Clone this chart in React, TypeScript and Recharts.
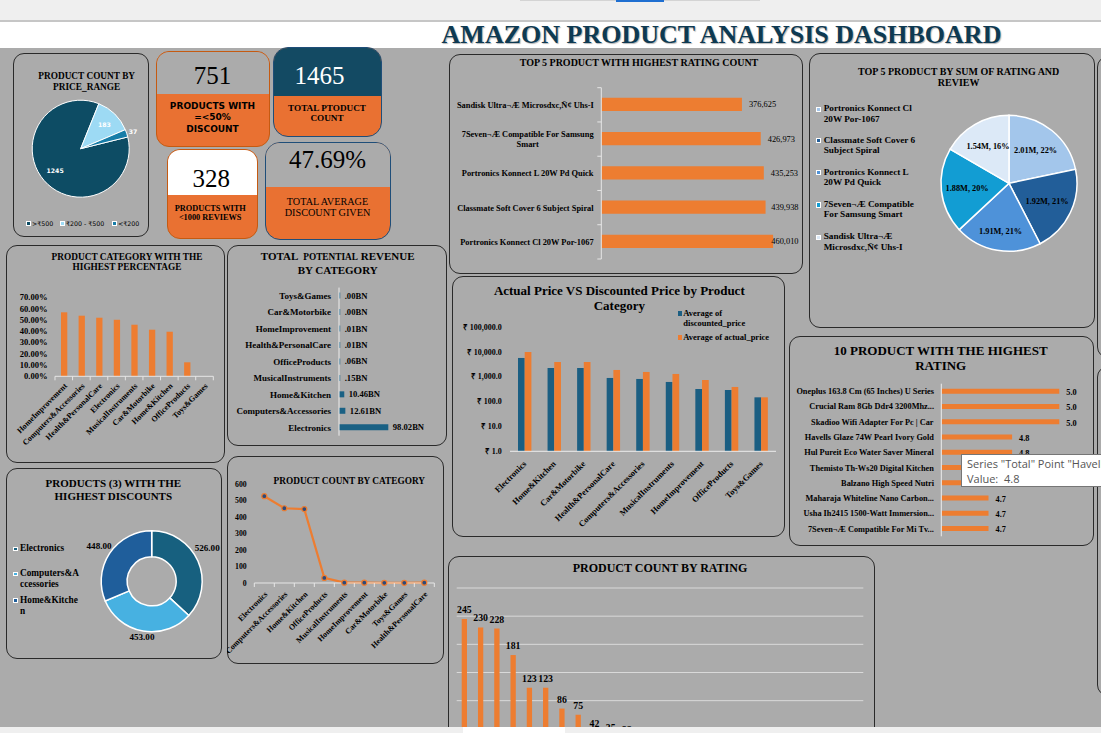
import React from 'react';
import { PieChart, Pie, Cell, BarChart, Bar, XAxis, YAxis, LabelList, LineChart, Line, CartesianGrid } from 'recharts';

const SERIF = "'Liberation Serif', 'Times New Roman', Times, serif";
const SANS = "'DejaVu Sans', Verdana, sans-serif";
const UI = "'Open Sans', 'Noto Sans', sans-serif";
const ORANGE = '#ED7D31';
const CARD_ORANGE = '#E97132';
const TEAL = '#134A63';
const BG = '#ABABAB';
const AXIS = '#E6E6E6';
const RAD = Math.PI / 180;

// ---------------- data ----------------
const priceRanges = ['>₹500', '₹200 - ₹500', '<₹200'];
const priceRangeCounts = [1245, 183, 37];
const priceRangeColors = ['#0D4C64', '#9DDAF4', '#177DA8'];

const productsUpTo50Discount = 751;
const totalProductCount = 1465;
const productsUnder1000Reviews = 328;
const totalAverageDiscount = 47.69;

const ratingCountProducts = [
  'Sandisk Ultra¬Æ Microsdxc,Ñ¢ Uhs-I',
  '7Seven¬Æ Compatible For Samsung Smart',
  'Portronics Konnect L 20W Pd Quick',
  'Classmate Soft Cover 6 Subject Spiral',
  'Portronics Konnect Cl 20W Por-1067',
];
const ratingCounts = [376625, 426973, 435253, 439938, 460010];

const sumProducts = [
  'Portronics Konnect Cl 20W Por-1067',
  'Classmate Soft Cover 6 Subject Spiral',
  'Portronics Konnect L 20W Pd Quick',
  '7Seven¬Æ Compatible For Samsung Smart',
  'Sandisk Ultra¬Æ Microsdxc,Ñ¢ Uhs-I',
];
const sumValuesM = [2.01, 1.92, 1.91, 1.88, 1.54];
const sumShareLabels = ['22%', '21%', '21%', '20%', '16%'];
const sumColors = ['#A3C6EB', '#225E99', '#4E92D9', '#129DD3', '#DCE9F7'];

const pctCategories = ['HomeImprovement', 'Computers&Accessories', 'Health&PersonalCare', 'Electronics', 'MusicalInstruments', 'Car&Motorbike', 'Home&Kitchen', 'OfficeProducts', 'Toys&Games'];
const pctValues = [0.567, 0.537, 0.519, 0.501, 0.457, 0.413, 0.395, 0.124, 0];

const revCategories = ['Toys&Games', 'Car&Motorbike', 'HomeImprovement', 'Health&PersonalCare', 'OfficeProducts', 'MusicalInstruments', 'Home&Kitchen', 'Computers&Accessories', 'Electronics'];
const revValuesBN = [0.0002, 0.0021, 0.0136, 0.0128, 0.0587, 0.1531, 10.46, 12.61, 98.02];

const priceCategories = ['Electronics', 'Home&Kitchen', 'Car&Motorbike', 'Health&PersonalCare', 'Computers&Accessories', 'MusicalInstruments', 'HomeImprovement', 'OfficeProducts', 'Toys&Games'];
const avgDiscountedPrice = [5800, 2290, 2290, 906, 826, 625, 326, 297, 150];
const avgActualPrice = [10120, 4000, 4000, 1905, 1581, 1313, 752, 393, 150];

const topRatedProducts = [
  'Oneplus 163.8 Cm (65 Inches) U Series',
  'Crucial Ram 8Gb Ddr4 3200Mhz...',
  'Skadioo Wifi Adapter For Pc | Car',
  'Havells Glaze 74W Pearl Ivory Gold',
  'Hul Pureit Eco Water Saver Mineral',
  'Themisto Th-Ws20 Digital Kitchen',
  'Balzano High Speed Nutri',
  'Maharaja Whiteline Nano Carbon...',
  'Usha Ih2415 1500-Watt Immersion...',
  '7Seven¬Æ Compatible For Mi Tv...',
];
const topRatings = [5.0, 5.0, 5.0, 4.8, 4.8, 4.8, 4.8, 4.7, 4.7, 4.7];

const discountCategories = ['Electronics', 'Computers&Accessories', 'Home&Kitchen'];
const discountValues = [526, 453, 448];
const discountColors = ['#17607F', '#47B1E1', '#1F5E9B'];

const countCategories = ['Electronics', 'Computers&Accessories', 'Home&Kitchen', 'OfficeProducts', 'MusicalInstruments', 'HomeImprovement', 'Car&Motorbike', 'Toys&Games', 'Health&PersonalCare'];
const countValues = [526, 453, 448, 31, 2, 2, 1, 1, 2];

const ratingLevels = ['4.1', '4.3', '4.2', '4.0', '3.9', '4.4', '3.8', '4.5', '4.6', '3.7', '3.6', '4.7', '3.5', '3.3', '3.4', '3.1', '5.0', '3.0', '3.2', '2.8', '2.3', '2.9', '2.6', '2.0', '4.8'];
const ratingLevelCounts = [245, 230, 228, 181, 123, 123, 86, 75, 42, 35, 32, 27, 26, 16, 10, 4, 4, 3, 3, 2, 2, 1, 1, 1, 1];

// ---------------- table builders ----------------
const priceRangeData = priceRanges.map((range, i) => ({ range, count: priceRangeCounts[i] }));
const ratingCountData = ratingCountProducts.map((name, i) => ({ name, value: ratingCounts[i] }));
const sumData = sumProducts.map((name, i) => ({ name, value: sumValuesM[i] }));
const pctData = pctCategories.map((name, i) => ({ name, value: pctValues[i] }));
const revData = revCategories.map((name, i) => ({ name, value: revValuesBN[i] }));
const priceData = priceCategories.map((name, i) => ({ name, disc: Math.log10(avgDiscountedPrice[i]), act: Math.log10(avgActualPrice[i]) }));
const topRatedData = topRatedProducts.map((name, i) => ({ name, value: topRatings[i] }));
const discountData = discountCategories.map((name, i) => ({ name, value: discountValues[i] }));
const countData = countCategories.map((name, i) => ({ name, value: countValues[i] }));
const ratingData = ratingLevels.map((name, i) => ({ name, count: ratingLevelCounts[i] }));

// ---------------- helpers ----------------
let _ctx: CanvasRenderingContext2D | null = null;
function measure(t: string, font: string) {
  if (!_ctx) _ctx = document.createElement('canvas').getContext('2d');
  if (!_ctx) return t.length * 5;
  _ctx.font = font;
  return _ctx.measureText(t).width;
}
function wrapText(text: string, font: string, maxW: number): string[] {
  const words = text.split(' ');
  const lines: string[] = [];
  let cur = '';
  for (const w of words) {
    const trial = cur ? cur + ' ' + w : w;
    if (measure(trial, font) <= maxW) { cur = trial; continue; }
    if (cur) { lines.push(cur); cur = ''; }
    if (measure(w, font) <= maxW) { cur = w; continue; }
    let piece = '';
    for (const ch of w) {
      if (piece && measure(piece + ch, font) > maxW) { lines.push(piece); piece = ch; } else piece += ch;
    }
    cur = piece;
  }
  if (cur) lines.push(cur);
  return lines;
}

function T({ x, y, children, size, bold = true, font = SERIF, color = '#000', anchor = 'middle', style = {} }: any) {
  const tx = anchor === 'middle' ? '-50%' : anchor === 'end' ? '-100%' : '0';
  return (
    <div style={{ position: 'absolute', left: x, top: y, transform: `translate(${tx}, -50%)`, fontFamily: font, fontSize: size, fontWeight: bold ? 700 : 400, color, whiteSpace: 'nowrap', lineHeight: 1, ...style }}>
      {children}
    </div>
  );
}
function Panel({ x, y, w, h, r = 11 }: any) {
  return <div style={{ position: 'absolute', left: x, top: y, width: w, height: h, border: '1.4px solid #2A2A2A', borderRadius: r, boxSizing: 'border-box' }} />;
}
function At({ x, y, children }: any) {
  return <div style={{ position: 'absolute', left: x, top: y }}>{children}</div>;
}
function Card({ x, y, w, h, split, top, border, r, value, valueColor = '#000', vx, vy, lines, lx, ly, font = SERIF, size, bold = true }: any) {
  const b = 1.5;
  return (
    <div style={{ position: 'absolute', left: x, top: y, width: w, height: h, borderRadius: r, border: `${b}px solid ${border}`, overflow: 'hidden', boxSizing: 'border-box', background: CARD_ORANGE }}>
      <div style={{ position: 'absolute', left: 0, top: 0, right: 0, height: split - b, background: top }} />
      <T x={(vx ?? w / 2) - b} y={vy - b} size={25} bold={false} color={valueColor}>{value}</T>
      {lines.map((l: string, i: number) => (
        <T key={i} x={(lx ?? w / 2) - b} y={ly[i] - b} size={size} bold={bold} font={font}>{l}</T>
      ))}
    </div>
  );
}

function catTick(right: number, size: number, maxW: number, band?: number, axisX?: number, count?: number) {
  const font = `bold ${size}px 'Liberation Serif'`;
  return (p: any) => {
    const lines = wrapText(String(p.payload.value), font, maxW);
    const bw = Math.max(...lines.map((l) => measure(l, font)));
    const cx = right - bw / 2;
    const lh = size * 1.2;
    const y0 = p.y - ((lines.length - 1) * lh) / 2;
    return (
      <g>
        <text fontFamily={SERIF} fontWeight="bold" fontSize={size} fill="#000" textAnchor="middle">
          {lines.map((l, i) => (
            <tspan key={i} x={cx} y={y0 + i * lh} dy="0.35em">{l}</tspan>
          ))}
        </text>
        {band && axisX !== undefined ? (
          <g>
            <line x1={axisX - 4} x2={axisX} y1={p.y - band / 2} y2={p.y - band / 2} stroke={AXIS} />
            {p.index === (count ?? 0) - 1 ? <line x1={axisX - 4} x2={axisX} y1={p.y + band / 2} y2={p.y + band / 2} stroke={AXIS} /> : null}
          </g>
        ) : null}
      </g>
    );
  };
}

function rotTick(axisY: number, dx: number, dy: number, size: number, band?: number, count?: number) {
  return (p: any) => {
    const tx = p.x + dx;
    const ty = axisY + dy;
    return (
      <g>
        <text x={tx} y={ty} transform={`rotate(-45 ${tx} ${ty})`} textAnchor="end" dominantBaseline="central" fontFamily={SERIF} fontWeight="bold" fontSize={size} fill="#000">
          {p.payload.value}
        </text>
        {band ? <line x1={p.x - band / 2} x2={p.x - band / 2} y1={axisY} y2={axisY + 4} stroke={AXIS} /> : null}
        {band && p.index === (count ?? 0) - 1 ? <line x1={p.x + band / 2} x2={p.x + band / 2} y1={axisY} y2={axisY + 4} stroke={AXIS} /> : null}
      </g>
    );
  };
}

function yTick(right: number, size: number, fmt: (v: number) => string) {
  return (p: any) => (
    <text x={right} y={p.y} textAnchor="end" dominantBaseline="central" fontFamily={SERIF} fontWeight="bold" fontSize={size} fill="#000">
      {fmt(p.payload.value)}
    </text>
  );
}

const pieLabel = (factors: number[], render: (i: number) => string, opts: any, nudgeY: number[] = []) => (p: any) => {
  const r = p.outerRadius * factors[p.index];
  const x = p.cx + r * Math.cos(-p.midAngle * RAD);
  const y = p.cy + r * Math.sin(-p.midAngle * RAD) + (nudgeY[p.index] || 0);
  return (
    <text x={x} y={y} textAnchor="middle" dominantBaseline="central" {...opts}>
      {render(p.index)}
    </text>
  );
};

const M0 = { top: 0, right: 0, bottom: 0, left: 0 };

export default function App() {
  const sumLegendFont = `bold 9.2px 'Liberation Serif'`;
  const discLegendFont = `bold 9.3px 'Liberation Serif'`;
  const sumLegendY = [109.3, 140.7, 172.7, 205, 237.3];
  const discLegendY = [549, 574, 600.7];
  const priceLegendY = [313.3, 337.3];
  const priceLegendItems = ['Average of discounted_price', 'Average of actual_price'];
  const priceLegendColors = ['#1B5E82', ORANGE];

  return (
    <div style={{ position: 'absolute', left: 0, top: 0, width: 1101, height: 733, overflow: 'hidden', background: BG, fontFamily: SERIF }}>
      {/* top bands */}
      <div style={{ position: 'absolute', left: 0, top: 0, width: 1101, height: 20, background: '#EFEFEF' }} />
      <div style={{ position: 'absolute', left: 520, top: 0, width: 240, height: 1, background: '#D4D4D4' }} />
      <div style={{ position: 'absolute', left: 616, top: 0, width: 48, height: 1.5, background: '#1F6FD1' }} />
      <div style={{ position: 'absolute', left: 0, top: 20, width: 1101, height: 2, background: '#C6C6C6' }} />
      <div style={{ position: 'absolute', left: 0, top: 22, width: 1101, height: 26, background: '#FFFFFF' }} />
      <T x={721.5} y={34.5} size={26} color="#0E3A52" style={{ textShadow: '1px 1px 1px rgba(0,0,0,0.3)' }}>AMAZON PRODUCT ANALYSIS DASHBOARD</T>

      {/* panels */}
      <Panel x={13} y={53} w={136} h={184} />
      <Panel x={449} y={54} w={354} h={220} />
      <Panel x={809} y={53} w={286} h={275} />
      <Panel x={6} y={245} w={219} h={218} />
      <Panel x={227} y={245} w={220} h={201} />
      <Panel x={452} y={276} w={333} h={261} />
      <Panel x={789} y={336} w={305} h={210} />
      <Panel x={6} y={468} w={216} h={191} />
      <Panel x={227} y={456} w={217} h={208} />
      <Panel x={448} y={556} w={427} h={220} />
      <Panel x={1097} y={56} w={30} h={302} />
      <Panel x={1097} y={366} w={30} h={330} />

      {/* ---- price range pie ---- */}
      <T x={86.7} y={77.3} size={9.3}>PRODUCT COUNT BY</T>
      <T x={86.7} y={87.5} size={9.3}>PRICE_RANGE</T>
      <At x={13} y={53}>
        <PieChart width={136} height={184} margin={M0}>
          <Pie data={priceRangeData} dataKey="count" nameKey="range" cx={67.7} cy={95.7} outerRadius={48.5} startAngle={14} endAngle={-346} stroke="#fff" strokeWidth={1} isAnimationActive={false} labelLine={false}
            label={pieLabel([0.7, 0.7, 1.14], (i) => String(priceRangeCounts[i]), { fill: '#fff', fontFamily: SANS, fontWeight: 'bold', fontSize: 6.2 })}>
            {priceRangeData.map((d, i) => <Cell key={i} fill={priceRangeColors[i]} />)}
          </Pie>
        </PieChart>
      </At>
      {priceRanges.map((r, i) => {
        const sx = [26, 60, 112][i];
        return (
          <React.Fragment key={i}>
            <div style={{ position: 'absolute', left: sx, top: 221.2, width: 5, height: 5, background: priceRangeColors[i], border: '0.8px solid #fff', boxSizing: 'border-box' }} />
            <T x={sx + 6} y={223.7} size={6.3} bold={false} font={SANS} anchor="start">{r}</T>
          </React.Fragment>
        );
      })}

      {/* ---- KPI cards ---- */}
      <Card x={156} y={51} w={114} h={96} split={43.3} top={BG} border="#C55A11" r={13} value={String(productsUpTo50Discount)} vy={24}
        lines={['PRODUCTS WITH', '=<50%', 'DISCOUNT']} ly={[55.7, 66.7, 78]} font={SANS} size={9} />
      <Card x={273} y={47} w={109} h={90} split={49.7} top={TEAL} border="#1F4E79" r={15} value={String(totalProductCount)} valueColor="#fff" vx={47} vy={28}
        lines={['TOTAL PTODUCT', 'COUNT']} ly={[62, 72]} size={9.2} />
      <Card x={167} y={149} w={91} h={90} split={46} top="#FFFFFF" border="#C55A11" r={13} value={String(productsUnder1000Reviews)} vx={44.7} vy={29.3}
        lines={['PRODUCTS WITH', '<1000 REVIEWS']} lx={43.7} ly={[60.7, 69.7]} size={8.3} />
      <Card x={265} y={142} w={126} h={98} split={45.7} top={BG} border="#1F4E79" r={15} value={`${totalAverageDiscount.toFixed(2)}%`} vx={63} vy={17.7}
        lines={['TOTAL AVERAGE', 'DISCOUNT GIVEN']} ly={[60, 71]} size={10.2} bold={false} />

      {/* ---- top 5 rating count ---- */}
      <T x={639} y={62.7} size={10}>TOP 5 PRODUCT WITH HIGHEST RATING COUNT</T>
      <At x={449} y={54}>
        <BarChart width={354} height={219} data={ratingCountData} layout="vertical" margin={{ top: 33.7, right: 15, bottom: 14, left: 0 }}>
          <XAxis type="number" domain={[0, 500000]} hide />
          <YAxis type="category" dataKey="name" width={152.3} interval={0} axisLine={{ stroke: AXIS }} tickLine={false}
            tick={catTick(144.7, 8.4, 141, 34.26, 152.3, 5)} />
          <Bar dataKey="value" fill={ORANGE} barSize={13.3} isAnimationActive={false}>
            <LabelList dataKey="value" content={(p: any) => (
              <text x={Math.min(p.x + p.width + 7, 322.3)} y={p.y + p.height / 2} dy="0.35em" fontFamily={SERIF} fontSize={8.4} fill="#000">
                {Number(p.value).toLocaleString('en-US')}
              </text>
            )} />
          </Bar>
        </BarChart>
      </At>

      {/* ---- top 5 sum pie ---- */}
      <T x={958.7} y={71.7} size={10}>TOP 5 PRODUCT BY SUM OF RATING AND</T>
      <T x={958.7} y={83.3} size={10}>REVIEW</T>
      <At x={809} y={53}>
        <PieChart width={286} height={275} margin={M0}>
          <Pie data={sumData} dataKey="value" nameKey="name" cx={200} cy={130.3} outerRadius={68} startAngle={90} endAngle={-270} stroke="#fff" strokeWidth={1.5} isAnimationActive={false} labelLine={false}
            label={pieLabel([0.62, 0.62, 0.72, 0.62, 0.62], (i) => `${sumValuesM[i].toFixed(2)}M, ${sumShareLabels[i]}`, { fill: '#000', fontFamily: SERIF, fontWeight: 'bold', fontSize: 8.3 })}>
            {sumData.map((d, i) => <Cell key={i} fill={sumColors[i]} />)}
          </Pie>
        </PieChart>
      </At>
      {sumProducts.map((name, i) => {
        const lines = wrapText(name, sumLegendFont, 96);
        return (
          <React.Fragment key={i}>
            <div style={{ position: 'absolute', left: 816, top: sumLegendY[i] - 2.6, width: 5.2, height: 5.2, background: sumColors[i], border: '0.8px solid #fff', boxSizing: 'border-box' }} />
            {lines.map((l, j) => <T key={j} x={823.7} y={sumLegendY[i] + j * 10.2} size={9.2} anchor="start">{l}</T>)}
          </React.Fragment>
        );
      })}

      {/* ---- category highest percentage ---- */}
      <T x={127} y={258} size={9.3}>PRODUCT CATEGORY WITH THE</T>
      <T x={127} y={268.3} size={9.3}>HIGHEST PERCENTAGE</T>
      <At x={6} y={245}>
        <BarChart width={219} height={218} data={pctData} margin={{ top: 52.3, right: 11.7, bottom: 0, left: 0 }}>
          <XAxis dataKey="name" height={86.7} interval={0} axisLine={{ stroke: AXIS }} tickLine={false} tick={rotTick(131.3, 2, 8.4, 8, 17.59, 9)} />
          <YAxis width={49} domain={[0, 0.7]} ticks={[0, 0.1, 0.2, 0.3, 0.4, 0.5, 0.6, 0.7]} interval={0} axisLine={false} tickLine={false}
            tick={yTick(41.7, 8.6, (v) => `${(v * 100).toFixed(2)}%`)} />
          <Bar dataKey="value" fill={ORANGE} barSize={6.3} isAnimationActive={false} />
        </BarChart>
      </At>

      {/* ---- total potential revenue ---- */}
      <div style={{ position: 'absolute', left: 337.7, top: 257, transform: 'translate(-50%, -50%)', fontFamily: SERIF, fontWeight: 700, fontSize: 11, lineHeight: 1, whiteSpace: 'pre', color: '#000' }}>
        TOTAL  <span style={{ fontSize: 9.3 }}>POTENTIAL</span> REVENUE
      </div>
      <T x={337.7} y={269.7} size={11}>BY CATEGORY</T>
      <At x={227} y={245}>
        <BarChart width={220} height={201} data={revData} layout="vertical" margin={{ top: 42.6, right: 7.4, bottom: 10.3, left: 0 }}>
          <XAxis type="number" domain={[0, 200]} hide />
          <YAxis type="category" dataKey="name" width={112} interval={0} axisLine={{ stroke: '#EDEDED' }} tickLine={false} tick={catTick(104, 9, 1000)} />
          <Bar dataKey="value" fill="#1A6184" barSize={6} minPointSize={1.2} isAnimationActive={false}>
            <LabelList dataKey="value" content={(p: any) => (
              <text x={p.x + p.width + 4.5} y={p.y + p.height / 2} dy="0.35em" fontFamily={SERIF} fontWeight="bold" fontSize={8.6} fill="#000">
                {Number(p.value).toFixed(2).replace(/^0/, '') + 'BN'}
              </text>
            )} />
          </Bar>
        </BarChart>
      </At>

      {/* ---- actual vs discounted ---- */}
      <T x={619.3} y={289.7} size={13}>Actual Price VS Discounted Price by Product</T>
      <T x={619.3} y={305.3} size={13}>Category</T>
      <At x={452} y={276}>
        <BarChart width={333} height={261} data={priceData} margin={{ top: 51.3, right: 9, bottom: 0, left: 0 }} barGap={0}>
          <XAxis dataKey="name" height={85.7} interval={0} axisLine={{ stroke: '#EDEDED' }} tickLine={false} tick={rotTick(175.3, 0, 11, 8.5)} />
          <YAxis width={58} domain={[0, 5]} ticks={[0, 1, 2, 3, 4, 5]} interval={0} axisLine={false} tickLine={false}
            tick={yTick(49.7, 8, (v) => '₹ ' + Math.pow(10, v).toLocaleString('en-US', { minimumFractionDigits: 1, maximumFractionDigits: 1 }))} />
          <Bar dataKey="disc" fill="#1B5E82" barSize={6.7} isAnimationActive={false} />
          <Bar dataKey="act" fill={ORANGE} barSize={6.7} isAnimationActive={false} />
        </BarChart>
      </At>
      {priceLegendItems.map((name, i) => {
        const lines = wrapText(name, `bold 8.5px 'Liberation Serif'`, 95);
        return (
          <React.Fragment key={i}>
            <div style={{ position: 'absolute', left: 677.5, top: priceLegendY[i] - 2.3, width: 4.6, height: 4.6, background: priceLegendColors[i] }} />
            {lines.map((l, j) => <T key={j} x={683.3} y={priceLegendY[i] + j * 9.4} size={8.5} anchor="start">{l}</T>)}
          </React.Fragment>
        );
      })}

      {/* ---- 10 products highest rating ---- */}
      <T x={940.7} y={349.7} size={13}>10 PRODUCT WITH THE HIGHEST</T>
      <T x={940.7} y={364.7} size={13}>RATING</T>
      <At x={789} y={336}>
        <BarChart width={305} height={210} data={topRatedData} layout="vertical" margin={{ top: 47.7, right: 11.1, bottom: 9.7, left: 0 }}>
          <XAxis type="number" domain={[4.5, 5.1]} hide allowDataOverflow />
          <YAxis type="category" dataKey="name" width={152.3} interval={0} axisLine={{ stroke: '#EDEDED' }} tickLine={false} tick={catTick(145, 8.3, 1000)} />
          <Bar dataKey="value" fill={ORANGE} barSize={5} isAnimationActive={false}>
            <LabelList dataKey="value" content={(p: any) => (
              <text x={p.x + p.width + 7} y={p.y + p.height / 2 + 1} dy="0.35em" fontFamily={SERIF} fontWeight="bold" fontSize={8.3} fill="#000">
                {Number(p.value).toFixed(1)}
              </text>
            )} />
          </Bar>
        </BarChart>
      </At>
      <div style={{ position: 'absolute', left: 961, top: 454, width: 150, height: 33, background: '#fff', border: '1px solid #767676', boxSizing: 'border-box' }}>
        <div style={{ position: 'absolute', left: 5, top: 1, fontFamily: UI, fontSize: 11, color: '#555', whiteSpace: 'nowrap', lineHeight: '15px' }}>
          Series "Total" Point "Havells Glaze 74W Pearl Ivory Gold"
        </div>
        <div style={{ position: 'absolute', left: 5, top: 16, fontFamily: UI, fontSize: 11, color: '#555', whiteSpace: 'pre', lineHeight: '15px' }}>
          {'Value:  4.8'}
        </div>
      </div>

      {/* ---- products with highest discounts (donut) ---- */}
      <T x={113.3} y={483} size={11}>PRODUCTS (3) WITH THE</T>
      <T x={113.3} y={495.7} size={11}>HIGHEST DISCOUNTS</T>
      <At x={6} y={468}>
        <PieChart width={216} height={191} margin={M0}>
          <Pie data={discountData} dataKey="value" nameKey="name" cx={145.7} cy={113.3} innerRadius={24.5} outerRadius={50.5} startAngle={90} endAngle={-270} stroke="#fff" strokeWidth={1.5} isAnimationActive={false} labelLine={false}
            label={pieLabel([1.2, 1.13, 1.25], (i) => discountValues[i].toFixed(2), { fill: '#000', fontFamily: SERIF, fontWeight: 'bold', fontSize: 9.1 }, [-9, -1, 0])}>
            {discountData.map((d, i) => <Cell key={i} fill={discountColors[i]} />)}
          </Pie>
        </PieChart>
      </At>
      {discountCategories.map((name, i) => {
        const lines = wrapText(name, discLegendFont, 60);
        return (
          <React.Fragment key={i}>
            <div style={{ position: 'absolute', left: 13.3, top: discLegendY[i] - 2.4, width: 4.8, height: 4.8, background: discountColors[i], border: '0.8px solid #fff', boxSizing: 'border-box' }} />
            {lines.map((l, j) => <T key={j} x={20} y={discLegendY[i] + j * 11.3} size={9.3} anchor="start">{l}</T>)}
          </React.Fragment>
        );
      })}

      {/* ---- product count by category (line) ---- */}
      <T x={349.3} y={482.3} size={9.3}>PRODUCT COUNT BY CATEGORY</T>
      <At x={227} y={456}>
        <LineChart width={217} height={208} data={countData} margin={{ top: 28, right: 9.7, bottom: 0, left: 0 }}>
          <XAxis dataKey="name" height={81} interval={0} padding={{ left: 10, right: 10 }} axisLine={{ stroke: AXIS }} tickLine={false} tick={rotTick(127, 2, 10, 8, 20, 9)} />
          <YAxis width={27.3} domain={[0, 600]} ticks={[0, 100, 200, 300, 400, 500, 600]} interval={0} axisLine={false} tickLine={false} tick={yTick(19.7, 7.8, (v) => String(v))} />
          <Line dataKey="value" stroke={ORANGE} strokeWidth={2.2} isAnimationActive={false}
            dot={(p: any) => <circle key={p.index} cx={p.cx} cy={p.cy} r={2.5} fill="#2E4A7A" stroke={ORANGE} strokeWidth={1.2} />} />
        </LineChart>
      </At>

      {/* ---- product count by rating ---- */}
      <T x={660} y={568} size={12}>PRODUCT COUNT BY RATING</T>
      <At x={448} y={556}>
        <BarChart width={427} height={230} data={ratingData} margin={{ top: 32, right: 11.7, bottom: 29, left: 8.7 }}>
          <CartesianGrid vertical={false} stroke="#D9D9D9" />
          <XAxis dataKey="name" hide />
          <YAxis hide domain={[0, 300]} ticks={[0, 50, 100, 150, 200, 250, 300]} interval={0} />
          <Bar dataKey="count" fill={ORANGE} barSize={5.3} isAnimationActive={false}>
            <LabelList dataKey="count" content={(p: any) => (
              <text x={p.x + p.width / 2} y={p.y - 6} textAnchor="middle" fontFamily={SERIF} fontWeight="bold" fontSize={9.8} fill="#000">
                {p.value}
              </text>
            )} />
          </Bar>
        </BarChart>
      </At>

      {/* bottom strip */}
      <div style={{ position: 'absolute', left: 0, top: 727, width: 1101, height: 6, background: '#EFEFEF' }} />
      <div style={{ position: 'absolute', left: 463, top: 727, width: 102, height: 6, background: '#FFFFFF' }} />
    </div>
  );
}
